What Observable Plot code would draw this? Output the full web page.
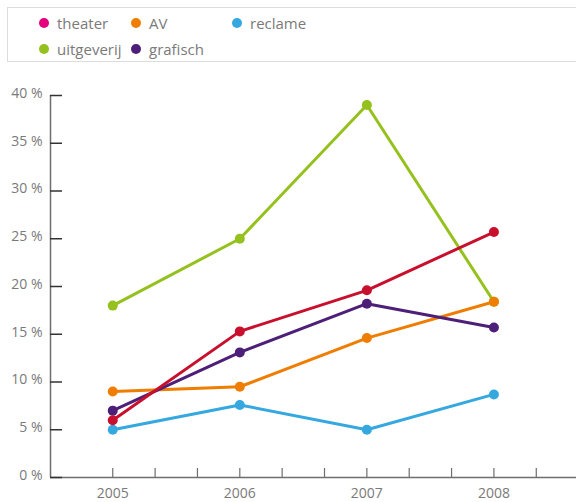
<!DOCTYPE html>
<html>
<head>
<meta charset="utf-8">
<script src="https://cdn.jsdelivr.net/npm/d3@7"></script>
<script src="https://cdn.jsdelivr.net/npm/@observablehq/plot@0.6"></script>
<style>
  html, body { margin: 0; padding: 0; background: #fff; }
  body { width: 576px; height: 502px; overflow: hidden; font-family: "Open Sans", sans-serif; }
  #legend {
    position: absolute; left: 7px; top: 7px; width: 600px; height: 55px;
    border: 1.5px solid #dcdcdc; box-sizing: border-box;
  }
  .item { position: absolute; display: flex; align-items: center; font-size: 15px; color: #7a7a7a; }
  .dot { width: 10px; height: 10px; border-radius: 50%; margin-right: 8px; }
  #chart { position: absolute; left: 0; top: 70px; }
</style>
</head>
<body>
<div id="legend"></div>
<div id="chart"></div>
<script>
// Share of each sector per year (percent)
const years = [2005, 2006, 2007, 2008];
const seriesNames = ["theater", "AV", "reclame", "uitgeverij", "grafisch"];
const theater = [6.0, 15.3, 19.6, 25.7];
const av = [9.0, 9.5, 14.6, 18.4];
const reclame = [5.0, 7.6, 5.0, 8.7];
const uitgeverij = [18.0, 25.0, 39.0, 18.4];
const grafisch = [7.0, 13.1, 18.2, 15.7];
const yTicks = [0, 5, 10, 15, 20, 25, 30, 35, 40];
const xLabels = [2005, 2006, 2007, 2008];
const xMinorTicks = d3.range(0, 11).map(k => 2005 + k / 3);

const lineColors = {theater: "#c8102e", AV: "#ee7d00", reclame: "#35a8e0", uitgeverij: "#95c11f", grafisch: "#4e1f78"};
const legendColors = {theater: "#e5007d", AV: "#ee7d00", reclame: "#35a8e0", uitgeverij: "#95c11f", grafisch: "#4e1f78"};

const valuesBySeries = {theater, AV: av, reclame, uitgeverij, grafisch};
const rows = seriesNames.flatMap(name =>
  years.map((year, i) => ({series: name, year, value: valuesBySeries[name][i]}))
);

// HTML legend above the chart
const legendPos = {
  theater: [38, 22], AV: [130, 22], reclame: [231, 22],
  uitgeverij: [38, 48], grafisch: [130, 48]
};
const legend = document.getElementById("legend");
for (const name of seriesNames) {
  const el = document.createElement("div");
  el.className = "item";
  el.style.left = (legendPos[name][0] - 7) + "px";
  el.style.top = (legendPos[name][1] - 7 - 11) + "px";
  el.style.height = "22px";
  el.innerHTML = `<span class="dot" style="background:${legendColors[name]}"></span>${name}`;
  legend.appendChild(el);
}

const drawOrder = ["uitgeverij", "reclame", "AV", "grafisch", "theater"];

const chart = Plot.plot({
  width: 576,
  height: 432,
  marginLeft: 50,
  marginRight: 0,
  marginTop: 25,
  marginBottom: 25,
  style: {fontFamily: "Open Sans, sans-serif", fontSize: "14px", color: "#7a7a7a"},
  x: {domain: [2004.51, 2008.65], label: null},
  y: {domain: [0, 40], label: null},
  marks: [
    // axis lines
    Plot.ruleX([2004.51], {stroke: "#6e6e6e", strokeWidth: 1.5}),
    Plot.ruleY([0], {stroke: "#6e6e6e", strokeWidth: 1.5}),
    // inward tick marks
    Plot.ruleY(yTicks, {stroke: "#333", strokeWidth: 1.5, insetRight: 514}),
    Plot.ruleX(xMinorTicks, {stroke: "#6e6e6e", strokeWidth: 1.2, insetTop: 373}),
    Plot.axisY(yTicks, {tickSize: 0, tickPadding: 8, tickFormat: d => d + " %", fill: "#7a7a7a", dy: -2, label: null}),
    Plot.axisX(xLabels, {tickSize: 0, tickPadding: 11, tickFormat: d => String(d), fill: "#7a7a7a", label: null}),
    ...drawOrder.map(name => Plot.line(rows.filter(r => r.series === name), {
      x: "year", y: "value", stroke: lineColors[name], strokeWidth: 3
    })),
    ...drawOrder.map(name => Plot.dot(rows.filter(r => r.series === name), {
      x: "year", y: "value", r: 5, fill: lineColors[name]
    }))
  ]
});
document.getElementById("chart").appendChild(chart);
</script>
</body>
</html>
